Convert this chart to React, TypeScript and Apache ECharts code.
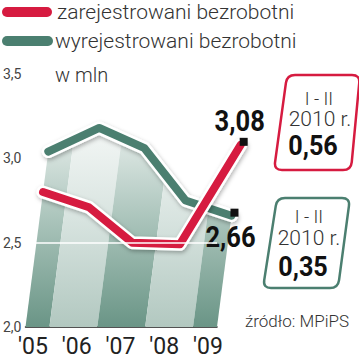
import React, { useEffect, useRef } from 'react';
import * as echarts from 'echarts';

const years = ["'05", "'06", "'07", "'08", "'09"];
const registered = [2.8, 2.71, 2.5, 2.49, 3.08];
const deregistered = [3.04, 3.18, 3.06, 2.75, 2.66];
const yMin = 2.0;
const yMax = 3.5;
const yStep = 0.5;
const legendNames = ['zarejestrowani bezrobotni', 'wyrejestrowani bezrobotni'];
const unitLabel = 'w mln';
const boxPeriod = 'I - II';
const boxYear = '2010 r.';
const registeredJanFeb = '0,56';
const deregisteredJanFeb = '0,35';
const sourceText = 'źródło: MPiPS';

const RED = '#d61b40';
const GREEN = '#4b7f70';
const FONT = 'Roboto, "Noto Sans", sans-serif';
const SHEAR = 0.13;

const fmt2 = (v: number) => v.toFixed(2).replace('.', ',');

function toward(p: number[], q: number[], r: number) {
  const dx = q[0] - p[0];
  const dy = q[1] - p[1];
  const l = Math.sqrt(dx * dx + dy * dy);
  return [p[0] + (dx / l) * r, p[1] + (dy / l) * r];
}
function roundedPath(pts: number[][], r: number) {
  const n = pts.length;
  let d = '';
  for (let i = 0; i < n; i++) {
    const p = pts[i];
    const prev = pts[(i - 1 + n) % n];
    const next = pts[(i + 1) % n];
    const a = toward(p, prev, r);
    const b = toward(p, next, r);
    d += (i === 0 ? 'M' : 'L') + a[0].toFixed(2) + ',' + a[1].toFixed(2) + ' Q' + p[0] + ',' + p[1] + ' ' + b[0].toFixed(2) + ',' + b[1].toFixed(2) + ' ';
  }
  return d + 'Z';
}

let registered_ = false;
function registerShapes() {
  if (registered_) return;
  registered_ = true;
  echarts.graphic.registerShape(
    'boxRed',
    echarts.graphic.extendPath(roundedPath([[13, 0], [86, 0], [77, 95], [0, 95]], 8), {}) as any
  );
  echarts.graphic.registerShape(
    'boxGreen',
    echarts.graphic.extendPath(roundedPath([[14, 0], [87, 0], [75, 90], [0, 90]], 8), {}) as any
  );
}

function makeShear(api: any) {
  const y0 = api.coord([0, yMin])[1];
  return (i: number, v: number) => {
    const p = api.coord([i, v]);
    return [p[0] + SHEAR * (y0 - p[1]), p[1]];
  };
}

function bgRender(params: any, api: any) {
  const n = deregistered.length;
  const i = api.value(0) as number;
  const y0 = api.coord([0, yMin])[1];
  const step = api.coord([1, yMin])[0] - api.coord([0, yMin])[0];
  const half = step / 2;
  const P = makeShear(api);
  const xi = api.coord([i, yMin])[0];
  const xl = i > 0 ? xi - half : xi;
  const xr = i < n - 1 ? xi + half : xi;
  const vc = deregistered[i];
  const vl = i > 0 ? (deregistered[i - 1] + vc) / 2 : vc;
  const vr = i < n - 1 ? (deregistered[i + 1] + vc) / 2 : vc;
  const tc = P(i, vc);
  const yl = api.coord([i, vl])[1];
  const yr = api.coord([i, vr])[1];
  const tl = [xl + SHEAR * (y0 - yl), yl];
  const tr = [xr + SHEAR * (y0 - yr), yr];
  const top = api.coord([0, 3.25])[1];
  const dark = i % 2 === 0;
  const fill = new echarts.graphic.LinearGradient(
    0, top, 0, y0,
    dark
      ? [
          { offset: 0, color: '#eef3f1' },
          { offset: 0.5, color: '#a9c3ba' },
          { offset: 1, color: '#6a9586' },
        ]
      : [
          { offset: 0, color: '#f7f9f8' },
          { offset: 0.5, color: '#d7e3df' },
          { offset: 1, color: '#b2c8c0' },
        ],
    true
  );
  return {
    type: 'polygon',
    shape: { points: [[xl, y0], [xr, y0], tr, tc, tl] },
    style: { fill },
  };
}

function lineRender(values: number[], color: string, labelDy: number) {
  return (params: any, api: any) => {
    const n = values.length;
    if (params.dataIndex !== n - 1) return null;
    const P = makeShear(api);
    const pts = values.map((v, i) => P(i, v));
    const end = pts[n - 1];
    return {
      type: 'group',
      children: [
        {
          type: 'polyline',
          shape: { points: pts },
          style: {
            stroke: '#ffffff',
            lineWidth: 13,
            fill: 'none',
            lineJoin: 'round',
            lineCap: 'round',
            shadowBlur: 4,
            shadowOffsetX: 1,
            shadowOffsetY: 2,
            shadowColor: 'rgba(0,0,0,0.3)',
          },
        },
        {
          type: 'polyline',
          shape: { points: pts },
          style: { stroke: color, lineWidth: 8, fill: 'none', lineJoin: 'round', lineCap: 'round' },
        },
        {
          type: 'rect',
          shape: { x: end[0] - 1, y: end[1] - 7, width: 8, height: 8 },
          style: { fill: '#111111' },
        },
        {
          type: 'text',
          x: end[0] - 1,
          y: end[1] + labelDy,
          scaleX: 0.88,
          style: {
            text: fmt2(values[n - 1]),
            fontSize: 29,
            fontWeight: 'bold',
            fontFamily: FONT,
            fill: '#111111',
            align: 'center',
            verticalAlign: 'middle',
          },
        },
      ],
    };
  };
}

export default function App() {
  const ref = useRef<HTMLDivElement>(null);
  useEffect(() => {
    if (!ref.current) return;
    registerShapes();
    const chart = echarts.init(ref.current, null, { renderer: 'svg' });
    const lightText = { fontFamily: FONT, fontWeight: 300, fill: '#333333' };
    const boldText = { fontFamily: FONT, fontWeight: 'bold', fill: '#111111' };
    chart.setOption({
      animation: false,
      backgroundColor: '#ffffff',
      grid: [
        { left: 25, right: 142, top: 74, bottom: 32 },
        { left: 33, right: 151, top: 74, bottom: 32 },
      ],
      xAxis: [
        {
          gridIndex: 0,
          type: 'category',
          data: years,
          boundaryGap: false,
          axisLine: { lineStyle: { color: '#1a1a1a', width: 1.5 } },
          axisTick: { show: false },
          axisLabel: { show: false },
          splitLine: { show: false },
        },
        {
          gridIndex: 1,
          type: 'category',
          data: years,
          boundaryGap: false,
          axisLine: { show: false },
          axisTick: { show: false },
          axisLabel: { fontSize: 23, color: '#222222', margin: 8, fontFamily: FONT },
          splitLine: { show: false },
        },
      ],
      yAxis: [
        {
          gridIndex: 0,
          type: 'value',
          min: yMin,
          max: yMax,
          interval: yStep,
          axisLine: { show: false },
          axisTick: { show: false },
          splitLine: { show: false },
          axisLabel: {
            margin: 4,
            fontSize: 14,
            color: '#444444',
            fontFamily: FONT,
            formatter: (v: number) => v.toFixed(1).replace('.', ','),
          },
        },
        { gridIndex: 1, type: 'value', min: yMin, max: yMax, show: false },
      ],
      series: [
        {
          type: 'custom',
          name: 'tło',
          xAxisIndex: 0,
          yAxisIndex: 0,
          data: deregistered.map((v, i) => [i, v]),
          renderItem: bgRender,
          z: 1,
          markLine: {
            silent: true,
            symbol: 'none',
            label: { show: false },
            lineStyle: { color: '#ffffff', width: 1.5, type: 'solid' },
            data: [{ yAxis: 2.5 }],
          },
        },
        {
          type: 'custom',
          name: legendNames[1],
          xAxisIndex: 0,
          yAxisIndex: 0,
          data: deregistered.map((v, i) => [i, v]),
          renderItem: lineRender(deregistered, GREEN, 22),
          z: 3,
        },
        {
          type: 'custom',
          name: legendNames[0],
          xAxisIndex: 0,
          yAxisIndex: 0,
          data: registered.map((v, i) => [i, v]),
          renderItem: lineRender(registered, RED, -23),
          z: 4,
        },
      ],
      graphic: [
        { type: 'rect', x: 2, y: 7, shape: { x: 0, y: 0, width: 50, height: 10, r: 5 }, style: { fill: RED } },
        { type: 'rect', x: 2, y: 36, shape: { x: 0, y: 0, width: 51, height: 10, r: 5 }, style: { fill: GREEN } },
        { type: 'text', x: 57, y: 12, style: { ...lightText, text: legendNames[0], fontSize: 21, verticalAlign: 'middle' } },
        { type: 'text', x: 55, y: 41, style: { ...lightText, text: legendNames[1], fontSize: 21, verticalAlign: 'middle' } },
        { type: 'text', x: 55, y: 75, style: { ...lightText, text: unitLabel, fontSize: 20, verticalAlign: 'middle' } },
        { type: 'boxRed', x: 274, y: 75, style: { fill: 'none', stroke: RED, lineWidth: 2.5 } },
        { type: 'text', x: 319, y: 98, style: { ...lightText, text: boxPeriod, fontSize: 18, align: 'center', verticalAlign: 'middle' } },
        { type: 'text', x: 320, y: 119, style: { ...lightText, text: boxYear, fontSize: 21, align: 'center', verticalAlign: 'middle' } },
        { type: 'text', x: 313, y: 146, scaleX: 0.9, style: { ...boldText, text: registeredJanFeb, fontSize: 28, align: 'center', verticalAlign: 'middle' } },
        { type: 'boxGreen', x: 263, y: 198, style: { fill: 'none', stroke: GREEN, lineWidth: 2.5 } },
        { type: 'text', x: 309, y: 216, style: { ...lightText, text: boxPeriod, fontSize: 18, align: 'center', verticalAlign: 'middle' } },
        { type: 'text', x: 309, y: 238, style: { ...lightText, text: boxYear, fontSize: 21, align: 'center', verticalAlign: 'middle' } },
        { type: 'text', x: 303, y: 267, scaleX: 0.9, style: { ...boldText, text: deregisteredJanFeb, fontSize: 28, align: 'center', verticalAlign: 'middle' } },
        { type: 'text', x: 297, y: 321, style: { ...lightText, text: sourceText, fontSize: 17, align: 'center', verticalAlign: 'middle' } },
      ],
    });
    return () => chart.dispose();
  }, []);
  return <div ref={ref} style={{ position: 'fixed', left: 0, top: 0, width: 359, height: 359 }} />;
}
